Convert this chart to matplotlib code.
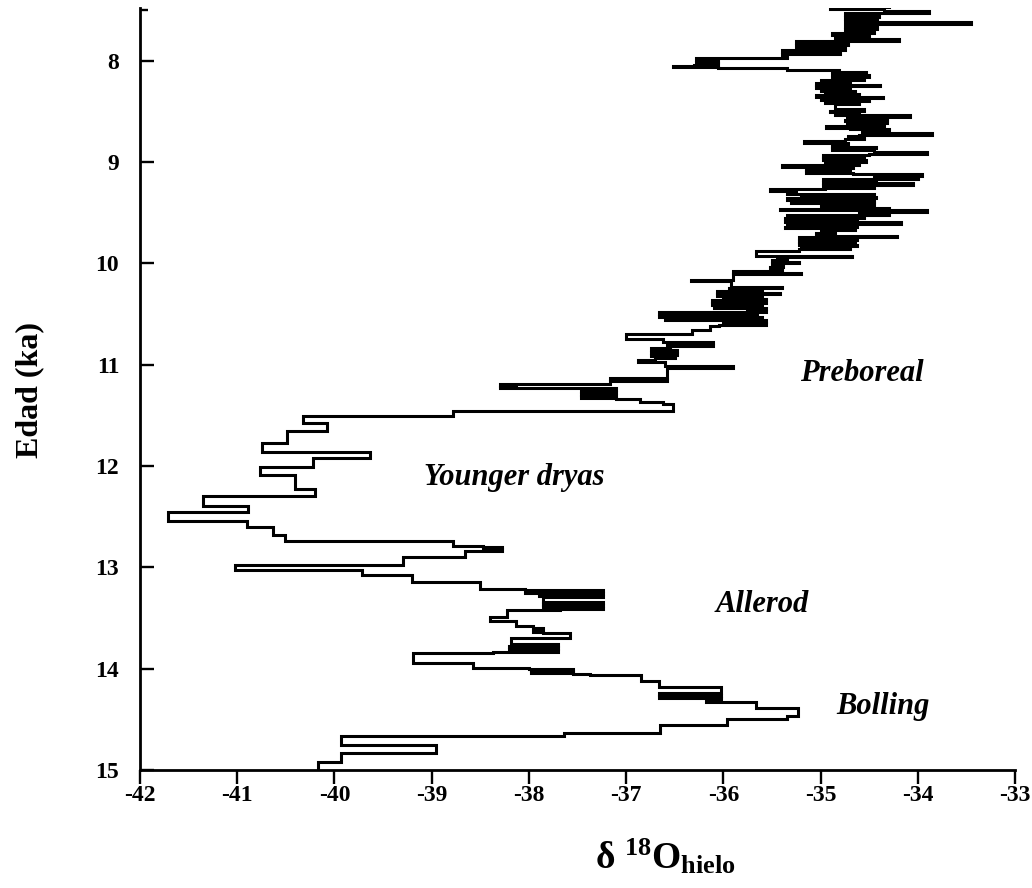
import matplotlib
matplotlib.use("Agg")
import matplotlib.pyplot as plt
import numpy as np

# ---------------- data (age in ka, delta 18O of ice) ----------------
# each value holds from its age down to the next age (step record)
age_holocene = [7.30, 7.35, 7.39, 7.41, 7.43, 7.45, 7.47, 7.49, 7.51, 7.53,
                7.55, 7.57, 7.59, 7.61, 7.62, 7.635, 7.65, 7.67, 7.69, 7.71,
                7.73, 7.75, 7.77, 7.79, 7.81, 7.83, 7.85, 7.87, 7.89, 7.91,
                7.93, 7.95, 7.975, 7.995, 8.01, 8.025, 8.04, 8.05, 8.065, 8.075,
                8.09, 8.10, 8.115, 8.13, 8.145, 8.16, 8.175, 8.19, 8.205, 8.22,
                8.235, 8.25, 8.265, 8.28, 8.295, 8.31, 8.325, 8.34, 8.355, 8.37,
                8.385, 8.40, 8.42, 8.43, 8.48, 8.495, 8.51, 8.525, 8.54, 8.555,
                8.57, 8.585, 8.60, 8.615, 8.63, 8.645, 8.66, 8.675, 8.69, 8.715,
                8.73, 8.745, 8.76, 8.775, 8.795, 8.81, 8.835, 8.85, 8.865, 8.88,
                8.905, 8.92, 8.935, 8.95, 8.965, 8.98, 8.995, 9.01, 9.03, 9.045,
                9.06, 9.075, 9.09, 9.105, 9.12, 9.135, 9.15, 9.165, 9.18, 9.195,
                9.21, 9.225, 9.24, 9.255, 9.27, 9.285, 9.30, 9.315, 9.33, 9.345,
                9.36, 9.375, 9.39, 9.405, 9.42, 9.435, 9.45, 9.465, 9.475, 9.49,
                9.505, 9.52, 9.53, 9.55, 9.565, 9.58, 9.595, 9.61, 9.625, 9.64,
                9.655, 9.67, 9.685, 9.70, 9.715, 9.728, 9.74, 9.755, 9.77, 9.785,
                9.80, 9.815, 9.83, 9.845, 9.86, 9.88, 9.93, 9.94, 9.955, 9.97,
                9.985, 10.0, 10.02, 10.04, 10.06, 10.08, 10.095, 10.105]
d18o_holocene = [-34.6, -34.2, -35.25, -33.75, -34.9, -34.3, -34.9, -34.35, -33.88, -34.75,
                 -34.4, -34.75, -34.42, -34.75, -33.45, -34.45, -34.75, -34.42, -34.75, -34.45,
                 -34.88, -34.5, -34.85, -34.19, -35.25, -34.72, -35.25, -34.75, -35.4, -34.8,
                 -35.4, -35.35, -36.28, -36.05, -36.28, -36.05, -36.3, -36.52, -36.05, -35.35,
                 -34.81, -34.88, -34.53, -34.88, -34.5, -34.88, -34.55, -35.0, -34.7, -35.05,
                 -34.39, -35.05, -34.7, -35.0, -34.65, -34.95, -34.6, -35.05, -34.36, -35.0,
                 -34.5, -34.95, -34.6, -34.85, -34.55, -34.9, -34.6, -34.85, -34.08, -34.73,
                 -34.32, -34.75, -34.32, -34.73, -34.35, -34.94, -34.7, -34.3, -34.57, -33.85,
                 -34.6, -34.72, -34.55, -34.75, -35.17, -34.72, -34.88, -34.43, -34.88, -34.45,
                 -33.91, -34.5, -34.98, -34.55, -34.98, -34.53, -34.95, -34.6, -35.4, -34.67,
                 -35.15, -34.7, -35.15, -34.67, -33.96, -34.45, -34.0, -34.98, -34.43, -34.98,
                 -34.05, -34.98, -34.45, -34.95, -35.52, -35.25, -35.35, -34.45, -35.2, -34.43,
                 -35.35, -34.45, -35.3, -34.45, -35.0, -34.55, -34.3, -35.42, -33.91, -34.6,
                 -34.3, -35.35, -34.55, -35.37, -34.63, -35.37, -34.17, -35.35, -34.63, -35.37,
                 -34.65, -35.0, -34.85, -35.05, -34.88, -34.21, -35.22, -34.63, -35.22, -34.65,
                 -35.22, -34.63, -35.2, -34.7, -35.22, -35.66, -34.68, -35.45, -35.35, -35.5,
                 -35.22, -35.5, -35.39, -35.52, -35.4, -35.9, -35.2, -35.9]

age_preboreal = [10.165, 10.175, 10.235, 10.245, 10.26, 10.275, 10.29, 10.305, 10.32, 10.335,
                 10.35, 10.365, 10.38, 10.395, 10.41, 10.425, 10.44, 10.455, 10.47, 10.485,
                 10.50, 10.515, 10.53, 10.545, 10.56, 10.575, 10.59, 10.605, 10.62, 10.66,
                 10.70, 10.75, 10.775, 10.79, 10.805, 10.82, 10.84, 10.855, 10.87, 10.885,
                 10.90, 10.915, 10.93, 10.955, 10.975, 11.015, 11.03, 11.13, 11.145, 11.16,
                 11.195, 11.21, 11.22, 11.235, 11.25, 11.265, 11.28, 11.295, 11.31, 11.325,
                 11.335, 11.365, 11.39]
d18o_preboreal = [-36.33, -35.92, -35.4, -35.94, -35.6, -36.07, -35.42, -36.07, -35.6, -36.0,
                  -35.56, -36.12, -35.56, -36.12, -35.6, -36.1, -35.56, -35.76, -35.56, -36.66,
                  -35.65, -36.66, -35.6, -36.6, -35.56, -36.0, -35.56, -36.04, -36.14, -36.32,
                  -37.0, -36.62, -36.11, -36.58, -36.11, -36.55, -36.74, -36.48, -36.74, -36.48,
                  -36.74, -36.5, -36.7, -36.88, -36.6, -35.9, -36.58, -37.17, -36.58, -37.17,
                  -38.3, -38.13, -38.3, -37.1, -37.46, -37.1, -37.46, -37.1, -37.46, -37.1,
                  -36.86, -36.62, -36.52]

age_younger_dryas = [11.456, 11.505, 11.58, 11.65, 11.77, 11.86, 11.92, 12.01, 12.09, 12.23,
                     12.30, 12.39, 12.45, 12.54, 12.60, 12.68, 12.74, 12.79, 12.80, 12.81,
                     12.82, 12.835, 12.90, 12.975]
d18o_younger_dryas = [-38.78, -40.32, -40.08, -40.49, -40.75, -39.63, -40.22, -40.77, -40.41, -40.2,
                      -41.35, -40.89, -41.71, -40.9, -40.63, -40.51, -38.78, -38.47, -38.28, -38.47,
                      -38.28, -38.66, -39.3, -41.02]

age_allerod = [13.03, 13.08, 13.14, 13.21, 13.22, 13.235, 13.25, 13.265, 13.28, 13.295,
               13.34, 13.355, 13.37, 13.385, 13.40, 13.415, 13.42, 13.49, 13.53, 13.58,
               13.60, 13.62, 13.635, 13.65, 13.70, 13.76, 13.775, 13.79, 13.805, 13.82,
               13.835, 13.85, 13.94, 13.99, 14.0, 14.01, 14.02, 14.03, 14.04]
d18o_allerod = [-39.72, -39.2, -38.5, -38.04, -37.24, -38.04, -37.24, -37.9, -37.24, -37.86,
                -37.24, -37.86, -37.24, -37.86, -37.24, -37.68, -38.23, -38.4, -38.13, -37.96,
                -37.86, -37.96, -37.86, -37.58, -38.18, -37.7, -38.2, -37.7, -38.2, -37.7,
                -38.37, -39.19, -38.58, -38.0, -37.55, -37.98, -37.55, -37.98, -37.55]

age_bolling = [14.05, 14.06, 14.12, 14.18, 14.24, 14.255, 14.27, 14.285, 14.30, 14.33,
               14.39, 14.47, 14.50, 14.56, 14.63, 14.66, 14.75, 14.83, 14.92, 15.0]
d18o_bolling = [-37.37, -36.85, -36.66, -36.02, -36.66, -36.02, -36.66, -36.02, -36.18, -35.66,
                -35.23, -35.35, -35.96, -36.65, -37.64, -39.93, -38.96, -39.93, -40.17, -40.17]

period_names = ["Preboreal", "Younger dryas", "Allerod", "Bolling"]
period_x = [-34.58, -38.15, -35.60, -34.36]
period_age = [11.09, 12.11, 13.37, 14.37]

x_ticks = [-42, -41, -40, -39, -38, -37, -36, -35, -34, -33]
y_ticks = [8, 9, 10, 11, 12, 13, 14, 15]

# ---------------- figure ----------------
plt.rcParams['axes.unicode_minus'] = False
plt.rcParams['font.family'] = ['Liberation Serif', 'DejaVu Serif']
plt.rcParams['mathtext.fontset'] = 'custom'
plt.rcParams['mathtext.rm'] = 'Liberation Serif:bold'
plt.rcParams['mathtext.bf'] = 'Liberation Serif:bold'
plt.rcParams['mathtext.it'] = 'Liberation Serif:bold:italic'
plt.rcParams['mathtext.default'] = 'rm'

ages = np.array(age_holocene + age_preboreal + age_younger_dryas + age_allerod + age_bolling)
vals = np.array(d18o_holocene + d18o_preboreal + d18o_younger_dryas + d18o_allerod + d18o_bolling)

fig = plt.figure(figsize=(10.32, 8.88), dpi=100)
ax = fig.add_axes([140 / 1032, 1 - 770 / 888, 875 / 1032, 762 / 888])

ax.plot(vals, ages, drawstyle='steps-pre', color='black', lw=2.2,
        solid_joinstyle='miter', solid_capstyle='butt')

ax.set_xlim(-42, -33)
ax.set_ylim(15, 7.48)

for s in ['top', 'right']:
    ax.spines[s].set_visible(False)
for s in ['left', 'bottom']:
    ax.spines[s].set_linewidth(2.0)

ax.set_xticks(x_ticks)
ax.set_xticklabels([str(t) for t in x_ticks])
ax.set_yticks(y_ticks)
ax.set_yticklabels([str(t) for t in y_ticks])
ax.set_yticks([7.5], minor=True)

ax.tick_params(axis='x', direction='out', length=10, width=1.7, pad=1,
               labelsize=17)
ax.tick_params(axis='y', which='major', direction='in', length=10, width=1.7,
               pad=15, labelsize=17)
ax.tick_params(axis='y', which='minor', direction='in', length=6, width=1.7)
for lab in ax.get_xticklabels() + ax.get_yticklabels():
    lab.set_fontweight('bold')

fig.text(30 / 1032, 1 - 390 / 888, "Edad (ka)", rotation=90, ha='center', va='center',
         fontsize=23, fontweight='bold')
fig.text(665 / 1032, 1 - 857 / 888, "δ $^{18}$O$_{\\mathrm{hielo}}$", ha='center', va='center',
         fontsize=27, fontweight='bold')

for name, px, pa in zip(period_names, period_x, period_age):
    ax.text(px, pa, name, ha='center', va='center', fontsize=22,
            fontweight='bold', fontstyle='italic')

fig.savefig("out.png", dpi=100, facecolor='white')
